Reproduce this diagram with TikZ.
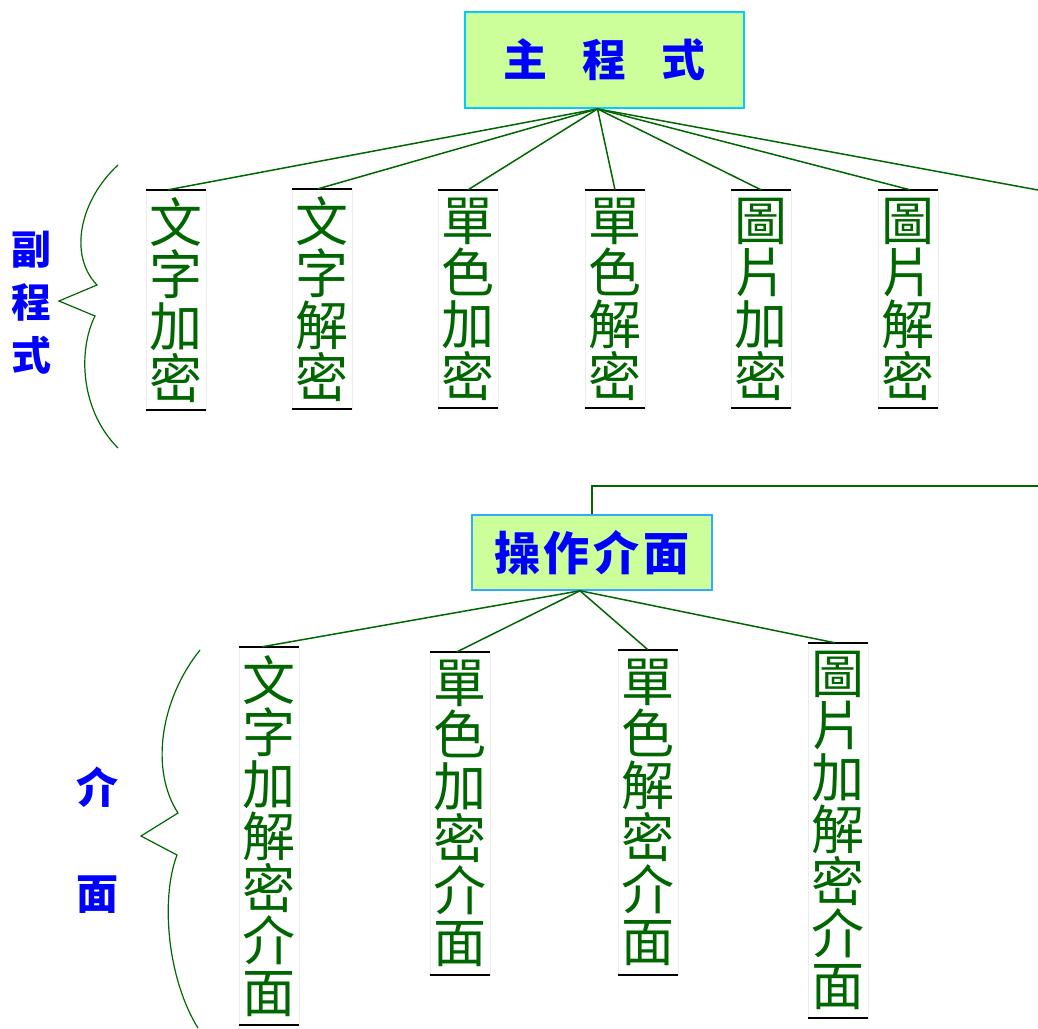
\documentclass[tikz,border=0pt]{standalone}
\usepackage{fontspec}
\newfontfamily\cjk{Noto Sans CJK TC}
\definecolor{lgreen}{RGB}{0,102,0}
\definecolor{boxfill}{RGB}{204,255,153}
\definecolor{boxline}{RGB}{0,204,255}
\definecolor{boxlinetwo}{RGB}{51,170,255}
\begin{document}
\begin{tikzpicture}[x=1pt,y=-1pt,
  vtext/.style={draw=black!7, line width=0.4pt, inner sep=0pt, minimum width=60pt,
    text=lgreen, align=center, font=\fontsize{53}{52}\selectfont\cjk},
  conn/.style={draw=lgreen, line width=1.5pt},
  titlebox/.style={fill=boxfill, draw=boxline, line width=1.8pt, text=blue,
    inner sep=0pt},
  bar/.style={draw=black, line width=1.5pt},
  bluelab/.style={text=blue, align=center, inner sep=0pt},
  brace/.style={draw=lgreen, line width=1.2pt}]
\useasboundingbox (0,0) rectangle (1038,1028);

% title boxes
\node[titlebox, minimum width=279pt, minimum height=96pt,
  font=\fontsize{44}{48}\selectfont\cjk\bfseries] (main) at (604.5,60)
  {主\hspace{35pt}程\hspace{35pt}式};
\node[titlebox, draw=boxlinetwo, line width=1.5pt, minimum width=240pt, minimum height=75pt,
  font=\fontsize{46}{48}\selectfont\cjk\bfseries] (ui) at (592,552.5)
  {操\hspace{4pt}作\hspace{4pt}介\hspace{4pt}面};

% row 1
\node[vtext, minimum height=220pt] (a1) at (176,300) {文\\字\\加\\密};
\node[vtext, minimum height=220pt] (a2) at (322,299) {文\\字\\解\\密};
\node[vtext, minimum height=218pt] (a3) at (468,299) {單\\色\\加\\密};
\node[vtext, minimum height=218pt] (a4) at (615,299) {單\\色\\解\\密};
\node[vtext, minimum height=218pt] (a5) at (761,299) {圖\\片\\加\\密};
\node[vtext, minimum height=218pt] (a6) at (908,299) {圖\\片\\解\\密};

% row 2
\node[vtext, minimum height=378pt] (b1) at (269,836) {文\\字\\加\\解\\密\\介\\面};
\node[vtext, minimum height=323pt] (b2) at (460,813.5) {單\\色\\加\\密\\介\\面};
\node[vtext, minimum height=325pt] (b3) at (648,812.5) {單\\色\\解\\密\\介\\面};
\node[vtext, minimum height=375pt] (b4) at (838,830.5) {圖\\片\\加\\解\\密\\介\\面};

\foreach \n in {a1,a2,a3,a4,a5,a6,b1,b2,b3,b4}{
  \draw[bar] (\n.north west) -- (\n.north east);
  \draw[bar] (\n.south west) -- (\n.south east);
}

% connectors
\coordinate (mainfoot) at ([xshift=-7pt]main.south);
\coordinate (edgeA) at (1038,190);
\coordinate (edgeB) at (1038,486);
\draw[conn] (mainfoot) -- ([xshift=-8pt]a1.north);
\draw[conn] (mainfoot) -- ([xshift=-4pt]a2.north);
\draw[conn] (mainfoot) -- (a3.north);
\draw[conn] (mainfoot) -- (a4.north);
\draw[conn] (mainfoot) -- (a5.north);
\draw[conn] (mainfoot) -- ([xshift=2pt]a6.north);
\draw[conn] (mainfoot) -- (edgeA);
\draw[conn] (ui.north) |- (edgeB);

\coordinate (uifoot) at ([xshift=-12pt]ui.south);
\draw[conn] (uifoot) -- ([xshift=-7pt]b1.north);
\draw[conn] (uifoot) -- ([xshift=-3pt]b2.north);
\draw[conn] (uifoot) -- (b3.north);
\draw[conn] (uifoot) -- ([xshift=-3pt]b4.north);

% braces
\draw[brace] (118,165) .. controls (80,200) and (68,255) .. (97,285)
  -- (59,301) -- (95,316) .. controls (78,350) and (80,410) .. (118,448);
\draw[brace] (200,650) .. controls (160,700) and (150,770) .. (178,813)
  -- (141,836) -- (177,855) .. controls (160,900) and (168,980) .. (198,1028);

% side labels
\node[bluelab, font=\fontsize{40}{53}\selectfont\cjk\bfseries] (lab1) at (32,303) {副\\程\\式};
\node[bluelab, font=\fontsize{42}{106}\selectfont\cjk\bfseries] (lab2) at (97,840) {介\\面};
\end{tikzpicture}
\end{document}
